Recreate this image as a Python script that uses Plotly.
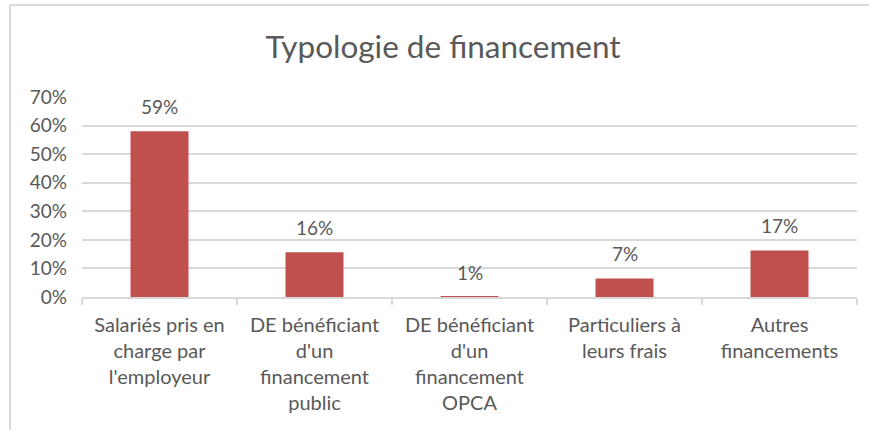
import plotly.graph_objects as go

categories = [
    "Salariés pris en<br>charge par<br>l'employeur",
    "DE bénéficiant<br>d'un<br>financement<br>public",
    "DE bénéficiant<br>d'un<br>financement<br>OPCA",
    "Particuliers à<br>leurs frais",
    "Autres<br>financements",
]
values = [0.58, 0.157, 0.0003, 0.065, 0.163]
labels = ["59%", "16%", "1%", "7%", "17%"]
y_ticks = [0, 0.1, 0.2, 0.3, 0.4, 0.5, 0.6, 0.7]

W, H = 869, 430
ML, MR, MT, MB = 82, 12, 97, 133
TEXT = "#595959"
GRID = "#d9d9d9"
FONT = "Lato, Calibri, sans-serif"

fig = go.Figure()
fig.add_trace(go.Bar(
    x=categories,
    y=values,
    marker=dict(color="#c0504d", line=dict(width=0)),
    hoverinfo="skip",
))

# data labels above the bars
for cat, val, lab in zip(categories, values, labels):
    fig.add_annotation(
        x=cat, y=val, text=lab, showarrow=False,
        yanchor="bottom", yshift=11,
        font=dict(size=19, color=TEXT, family=FONT),
    )

# light frame (left and top edges of the chart area)
pw = W - ML - MR
ph = H - MT - MB
fx = (10 - ML) / pw
fy = (H - MB - 5) / ph
fig.add_shape(type="line", xref="paper", yref="paper",
              x0=fx, x1=2, y0=fy, y1=fy, line=dict(color=GRID, width=2))
fig.add_shape(type="line", xref="paper", yref="paper",
              x0=fx, x1=fx, y0=fy, y1=-2, line=dict(color=GRID, width=2))

fig.update_layout(
    width=W, height=H,
    margin=dict(l=ML, r=MR, t=MT, b=MB),
    paper_bgcolor="white",
    plot_bgcolor="white",
    bargap=0.626,
    showlegend=False,
    font=dict(family=FONT, color=TEXT),
    title=dict(
        text="Typologie de financement",
        xref="container", yref="container",
        x=443 / W, y=1 - 47 / H,
        xanchor="center", yanchor="middle",
        font=dict(size=31.5, color=TEXT, family=FONT),
    ),
    xaxis=dict(
        type="category",
        tickson="boundaries",
        ticks="outside", ticklen=6, tickcolor=GRID, tickwidth=1.5,
        showline=True, linecolor=GRID, linewidth=1.5,
        showgrid=False,
        tickfont=dict(size=20, color=TEXT, family=FONT),
        ticklabelstandoff=9,
    ),
    yaxis=dict(
        range=[0, 0.7],
        tickvals=y_ticks,
        tickformat=".0%",
        showgrid=True, gridcolor=GRID, gridwidth=1.5,
        zeroline=False,
        showline=False,
        tickfont=dict(size=19, color=TEXT, family=FONT),
        ticklabelstandoff=14,
    ),
)

# drop the default page margin so the figure sits at the window's corner
fig.write_html("out.html", config={"displayModeBar": False},
               post_script="document.body.style.margin='0';")
